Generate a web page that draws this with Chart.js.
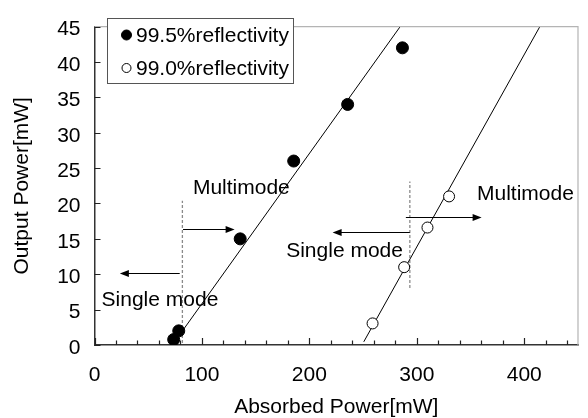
<!DOCTYPE html>
<html><head><meta charset="utf-8">
<script src="https://cdn.jsdelivr.net/npm/chart.js@4/dist/chart.umd.min.js"></script>
<style>html,body{margin:0;padding:0;background:#fff}#wrap{width:588px;height:418px}</style>
</head><body><div id="wrap"><canvas id="c" width="588" height="418"></canvas></div>
<script>
// ---- data ----
const seriesLabels = ['99.5%reflectivity', '99.0%reflectivity'];
const absorbed995 = [73.7, 78.4, 135.6, 185.4, 235.6, 286.6];
const output995   = [0.77, 2.0, 15.0, 26.0, 34.0, 42.0];
const absorbed990 = [258.8, 288.2, 309.9, 330.0];
const output990   = [3.05, 11.0, 16.6, 21.0];
const fitX995 = [80, 284.5];
const fitY995 = [1.6, 45];
const fitX990 = [250.6, 414.5];
const fitY990 = [0.45, 45];
const xTickLabels = [0, 100, 200, 300, 400];
const xMinorTicks = [0,20,40,60,80,100,120,140,160,180,200,220,240,260,280,300,320,340,360,380,400,420,440];
const yTickLabels = [0, 5, 10, 15, 20, 25, 30, 35, 40, 45];
const xTitle = 'Absorbed Power[mW]';
const yTitle = 'Output Power[mW]';
// annotations (data units)
const thresholdX     = [81.8, 293.5];
const thresholdYFrom = [0.3, 8.06];
const thresholdYTo   = [20.4, 23.1];
const arrowRightFrom = [82.4, 289.8];
const arrowRightTo   = [130.4, 360.3];
const arrowRightY    = [16.4, 18.1];
const arrowLeftFrom  = [79.3, 293.5];
const arrowLeftTo    = [23.6, 221.6];
const arrowLeftY     = [10.2, 16.0];
const multiText = 'Multimode';
const singleText = 'Single mode';
const multiLabelX  = [91.6, 356];
const multiLabelY  = [22.2, 21.3];
const singleLabelX = [6.6, 178.4];
const singleLabelY = [6.36, 13.2];

const FAMILY = '"Liberation Sans", Arial, Helvetica, sans-serif';
const pts = (xs, ys) => xs.map((x, i) => ({x: x, y: ys[i]}));

const annotPlugin = {
  id: 'annot',
  afterDatasetsDraw(chart) {
    const {ctx, chartArea: a, scales: {x, y}} = chart;
    ctx.save();
    // top & right frame
    ctx.strokeStyle = '#b4b4b4'; ctx.lineWidth = 1.2;
    ctx.beginPath();
    ctx.moveTo(a.left, a.top); ctx.lineTo(a.right, a.top); ctx.lineTo(a.right, a.bottom);
    ctx.stroke();
    // inward ticks
    ctx.strokeStyle = '#222'; ctx.lineWidth = 1.2;
    ctx.beginPath();
    xMinorTicks.forEach(v => {
      const px = Math.round(x.getPixelForValue(v)) + 0.5;
      const len = (v % 100 === 0) ? 7 : 4.5;
      ctx.moveTo(px, a.bottom); ctx.lineTo(px, a.bottom - len);
    });
    yTickLabels.forEach(v => {
      const py = Math.round(y.getPixelForValue(v)) + 0.5;
      ctx.moveTo(a.left, py); ctx.lineTo(a.left + 6, py);
    });
    ctx.stroke();
    // arrows
    const arrow = (x0, x1, yy) => {
      const p0 = x.getPixelForValue(x0), p1 = x.getPixelForValue(x1), py = Math.round(y.getPixelForValue(yy)) + 0.5;
      const dir = Math.sign(p1 - p0);
      ctx.strokeStyle = '#000'; ctx.fillStyle = '#000'; ctx.lineWidth = 1;
      ctx.beginPath(); ctx.moveTo(p0, py); ctx.lineTo(p1 - dir * 6, py); ctx.stroke();
      ctx.beginPath(); ctx.moveTo(p1, py); ctx.lineTo(p1 - dir * 9, py - 3.5); ctx.lineTo(p1 - dir * 9, py + 3.5); ctx.closePath(); ctx.fill();
    };
    for (let i = 0; i < arrowRightFrom.length; i++) arrow(arrowRightFrom[i], arrowRightTo[i], arrowRightY[i]);
    for (let i = 0; i < arrowLeftFrom.length; i++) arrow(arrowLeftFrom[i], arrowLeftTo[i], arrowLeftY[i]);
    // texts
    ctx.fillStyle = '#000'; ctx.font = '21px ' + FAMILY; ctx.textAlign = 'left'; ctx.textBaseline = 'middle';
    for (let i = 0; i < multiLabelX.length; i++) ctx.fillText(multiText, x.getPixelForValue(multiLabelX[i]), y.getPixelForValue(multiLabelY[i]));
    for (let i = 0; i < singleLabelX.length; i++) ctx.fillText(singleText, x.getPixelForValue(singleLabelX[i]), y.getPixelForValue(singleLabelY[i]));
    // legend
    ctx.fillStyle = '#fff'; ctx.strokeStyle = '#555'; ctx.lineWidth = 1;
    ctx.fillRect(107.5, 18.5, 186, 65); ctx.strokeRect(107.5, 18.5, 186, 65);
    const ds = chart.data.datasets;
    [35, 68].forEach((ly, i) => {
      ctx.beginPath(); ctx.arc(126.5, ly, i === 0 ? 5 : 4.5, 0, Math.PI * 2);
      ctx.fillStyle = ds[i].pointBackgroundColor; ctx.fill();
      ctx.strokeStyle = '#000'; ctx.lineWidth = 1; ctx.stroke();
      ctx.fillStyle = '#000'; ctx.font = '21px ' + FAMILY; ctx.textBaseline = 'middle';
      ctx.fillText(ds[i].label, 136, ly + 1);
    });
    ctx.restore();
  }
};

new Chart(document.getElementById('c'), {
  type: 'scatter',
  data: {
    datasets: [
      {label: seriesLabels[0], data: pts(absorbed995, output995), pointRadius: 6, pointBackgroundColor: '#000', pointBorderColor: '#000', pointBorderWidth: 1, showLine: false},
      {label: seriesLabels[1], data: pts(absorbed990, output990), pointRadius: 5.5, pointBackgroundColor: '#fff', pointBorderColor: '#000', pointBorderWidth: 1, showLine: false},
      {label: 'fit995', data: pts(fitX995, fitY995), showLine: true, borderColor: '#000', borderWidth: 1, pointRadius: 0},
      {label: 'fit990', data: pts(fitX990, fitY990), showLine: true, borderColor: '#000', borderWidth: 1, pointRadius: 0},
      {label: 'th1', data: pts([thresholdX[0], thresholdX[0]], [thresholdYFrom[0], thresholdYTo[0]]), showLine: true, borderColor: '#8a8a8a', borderWidth: 1.3, borderDash: [3, 2], pointRadius: 0},
      {label: 'th2', data: pts([thresholdX[1], thresholdX[1]], [thresholdYFrom[1], thresholdYTo[1]]), showLine: true, borderColor: '#8a8a8a', borderWidth: 1.3, borderDash: [3, 2], pointRadius: 0}
    ]
  },
  options: {
    responsive: false, animation: false, devicePixelRatio: 1,
    layout: {padding: {top: 10, right: 10, left: 0, bottom: 0}},
    plugins: {legend: {display: false}, tooltip: {enabled: false}},
    scales: {
      x: {
        type: 'linear', min: 0, max: 450,
        afterFit(s) { s.height = 73; },
        afterBuildTicks(s) { s.ticks = xTickLabels.map(v => ({value: v})); },
        grid: {display: false, drawTicks: false},
        border: {display: true, color: '#333', width: 1.5},
        ticks: {color: '#000', font: {size: 21, family: FAMILY}, padding: 18, maxRotation: 0, autoSkip: false},
        title: {display: true, text: xTitle, color: '#000', font: {size: 21, family: FAMILY, lineHeight: 1}, padding: 0}
      },
      y: {
        type: 'linear', min: 0, max: 45,
        afterFit(s) { s.width = 94.5; },
        afterBuildTicks(s) { s.ticks = yTickLabels.map(v => ({value: v})); },
        grid: {display: false, drawTicks: false},
        border: {display: true, color: '#333', width: 1.5},
        ticks: {color: '#000', font: {size: 21, family: FAMILY}, padding: 14, labelOffset: 3, autoSkip: false},
        title: {display: true, text: yTitle, color: '#000', font: {size: 21, family: FAMILY, lineHeight: 1}, padding: {top: 12, bottom: 0}}
      }
    }
  },
  plugins: [annotPlugin]
});
</script></body></html>
